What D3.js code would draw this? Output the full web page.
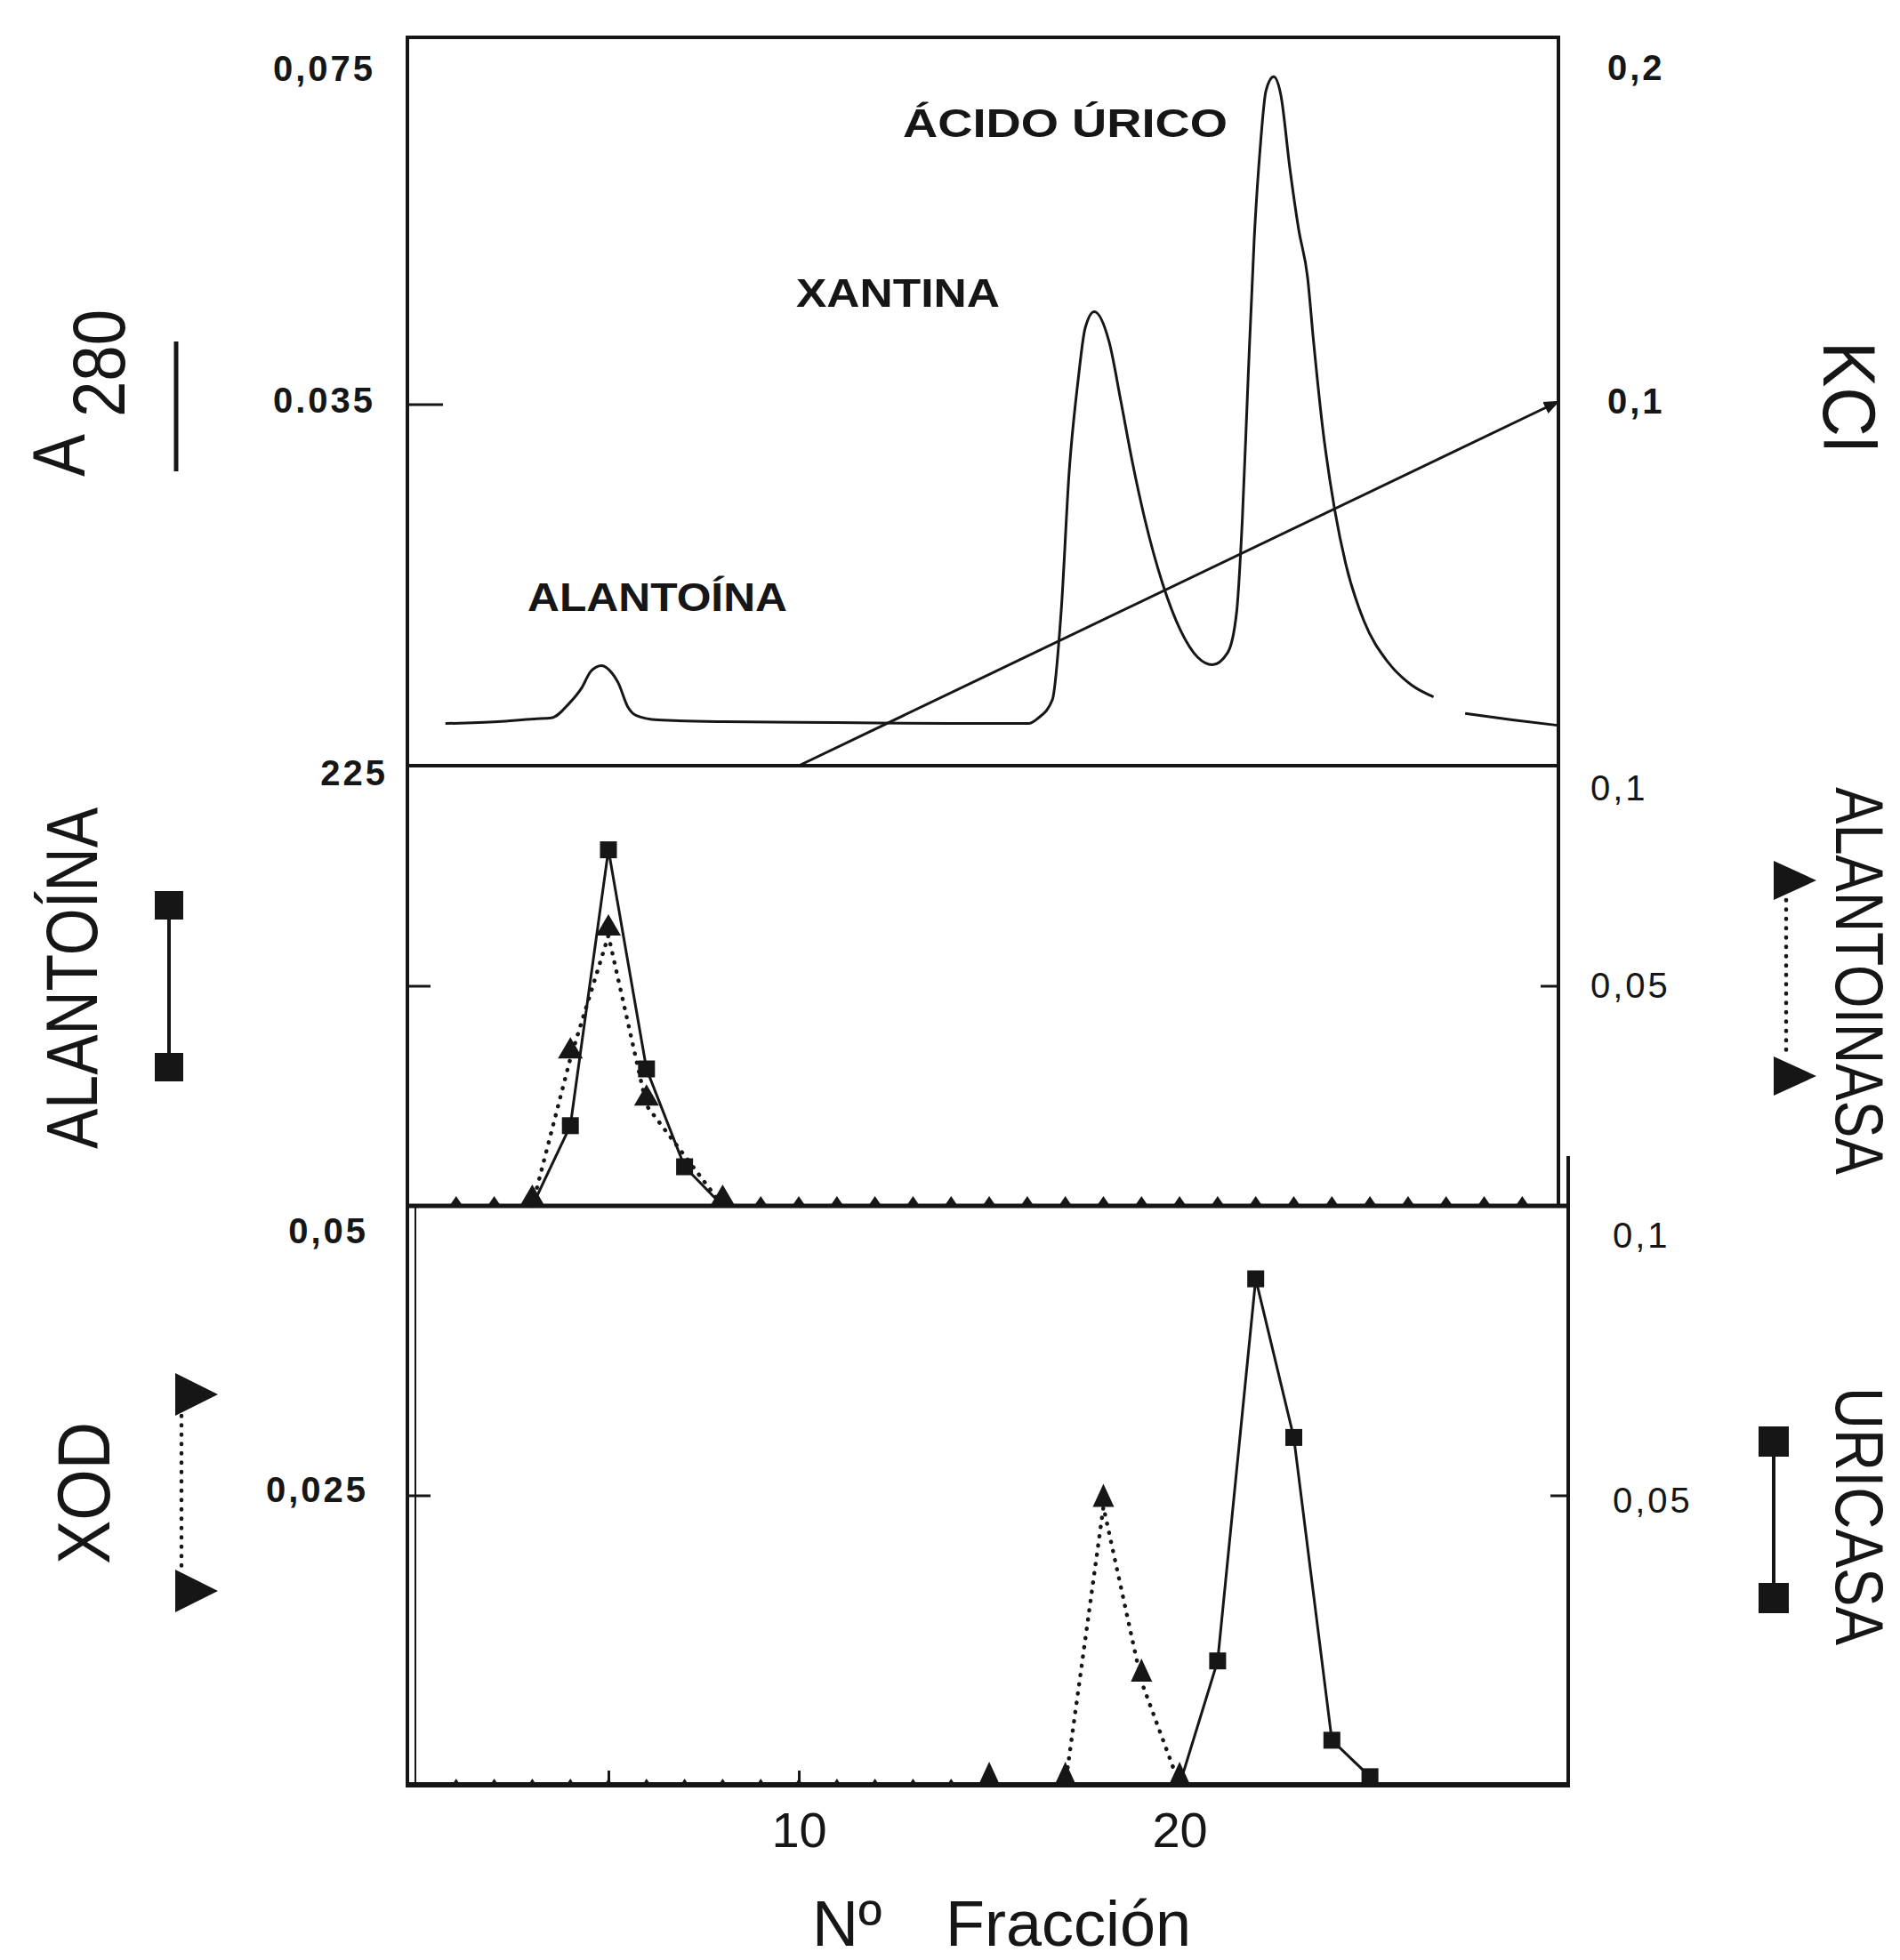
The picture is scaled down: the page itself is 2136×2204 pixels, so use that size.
<!DOCTYPE html>
<html>
<head>
<meta charset="utf-8">
<script src="https://cdn.jsdelivr.net/npm/d3@7/dist/d3.min.js"></script>
<style>
  body { margin: 0; background: #fff; }
  text { font-family: "Liberation Sans", Arial, sans-serif; fill: #161616; }
</style>
</head>
<body>
<script>
// ---- data ----
// A280 recorder trace (top panel): fraction number / absorbance; null = gap in the trace
var a280Frac = [0.72, 2.1, 3.04, 3.5, 3.97, 4.3, 4.54, 4.82, 5.09, 5.26, 5.51, 5.72, 6.3, 8, 11, 14, 16.03,
  16.29, 16.66, 16.89, 17.1, 17.34, 17.52, 17.76, 18.15, 18.46, 18.76, 19.08, 19.55, 20.02, 20.48, 20.86,
  21.26, 21.5, 21.65, 21.8, 21.96, 22.12, 22.27, 22.47, 22.66, 22.9, 23.13, 23.36, 23.52, 23.75, 24.07,
  24.37, 24.84, 25.47, 26.09, 26.67, 27.1, 27.5, 28.74, 29.93];
var a280Abs = [0.0002, 0.0004, 0.0007, 0.0008, 0.0024, 0.0041, 0.0059, 0.0065, 0.0057, 0.0046, 0.0020, 0.0011,
  0.0006, 0.0004, 0.0003, 0.0002, 0.0002, 0.0008, 0.0028, 0.0124, 0.0276, 0.0378, 0.0433, 0.0451, 0.0418,
  0.0353, 0.0287, 0.0226, 0.0155, 0.0104, 0.0074, 0.0066, 0.0079, 0.0124, 0.0226, 0.0378, 0.0530, 0.0631,
  0.0692, 0.0707, 0.0687, 0.0606, 0.0540, 0.0489, 0.0418, 0.0327, 0.0236, 0.0175, 0.0114, 0.0069, 0.0044,
  0.0031, null, 0.0013, 0.0006, 0.0000];
// KCl gradient (right scale, top panel)
var kclFrac = [10, 29.95];
var kclConc = [0, 0.1];

// middle panel: alantoína (squares, left scale) and alantoinasa (triangles, right scale)
var alantoinaFrac = [3, 4, 5, 6, 7, 8];
var alantoinaVal = [0, 41, 182, 70, 20, 0];
var alantoinasaFrac = [3, 4, 5, 6, 8];
var alantoinasaVal = [0, 0.0335, 0.0614, 0.0228, 0];
var alantoinasaZeroFrac = [1, 2, 9, 10, 11, 12, 13, 14, 15, 16, 17, 18, 19, 20, 21, 22, 23, 24, 25, 26, 27, 28, 29];

// bottom panel: XOD (triangles, left scale) and uricasa (squares, right scale)
var xodFrac = [15, 17, 18, 19, 20];
var xodVal = [0, 0, 0.024, 0.0089, 0];
var xodZeroFrac = [1, 2, 3, 4, 5, 6, 7, 8, 9, 10, 11, 12, 13, 14];
var uricasaFrac = [20, 21, 22, 23, 24, 25];
var uricasaVal = [0, 0.0214, 0.0874, 0.060, 0.0077, 0.0014];

// tick labels
var xTicks = [5, 10, 15, 20, 25];
var xTickLabels = ["", "10", "", "20", ""];
var topLeftTicks = [0.075, 0.035], topLeftLabels = ["0,075", "0.035"];
var topRightTicks = [0.2, 0.1], topRightLabels = ["0,2", "0,1"];
var midLeftTicks = [225, 112.5], midLeftLabels = ["225", ""];
var midRightTicks = [0.1, 0.05], midRightLabels = ["0,1", "0,05"];
var botLeftTicks = [0.05, 0.025], botLeftLabels = ["0,05", "0,025"];
var botRightTicks = [0.1, 0.05], botRightLabels = ["0,1", "0,05"];

// ---- layout ----
var W = 2136, H = 2204;
var ink = "#161616";
var fr = { left: 458, right: 1752, rightBot: 1763, top: 42, m1: 861, m2: 1356, bottom: 2007 };

var svg = d3.select("body").append("svg")
  .attr("width", W).attr("height", H)
  .style("background", "#fff");

var defs = svg.append("defs");
defs.append("marker")
  .attr("id", "arrow").attr("viewBox", "0 0 10 10")
  .attr("refX", 9).attr("refY", 5)
  .attr("markerWidth", 6).attr("markerHeight", 6)
  .attr("markerUnits", "strokeWidth")
  .attr("orient", "auto")
  .append("path").attr("d", "M0,1 L10,5 L0,9 Z").attr("fill", ink);

// scales
var x = d3.scaleLinear().domain([-0.28, 29.95]).range([fr.left, fr.right]);
var yTopL = d3.scaleLinear().domain([-0.0044, 0.075]).range([fr.m1, fr.top]);
var yTopR = d3.scaleLinear().domain([0, 0.2]).range([fr.m1, fr.top]);
var yMidL = d3.scaleLinear().domain([0, 225]).range([fr.m2, fr.m1]);
var yMidR = d3.scaleLinear().domain([0, 0.1]).range([fr.m2, fr.m1]);
var yBotL = d3.scaleLinear().domain([0, 0.05]).range([fr.bottom, fr.m2]);
var yBotR = d3.scaleLinear().domain([0, 0.1]).range([fr.bottom, fr.m2]);

// frame lines
function hline(y, x1, x2, w) {
  svg.append("line").attr("x1", x1).attr("x2", x2).attr("y1", y).attr("y2", y)
    .attr("stroke", ink).attr("stroke-width", w);
}
function vline(xx, y1, y2, w) {
  svg.append("line").attr("x1", xx).attr("x2", xx).attr("y1", y1).attr("y2", y2)
    .attr("stroke", ink).attr("stroke-width", w);
}
hline(fr.top, fr.left, fr.right, 4);
hline(fr.m1, fr.left, fr.right, 4);
hline(fr.m2, fr.left, fr.rightBot, 5);
hline(fr.bottom, fr.left, fr.rightBot, 6);
vline(fr.left, fr.top - 2, fr.bottom + 3, 4);
vline(fr.left + 9, fr.m2, fr.bottom, 2);
vline(fr.right, fr.top - 2, fr.m2, 4);
vline(fr.rightBot, 1300, fr.bottom + 3, 4);

// y axes
function sideAxis(scale, side, xpos, ticks, labels, opt) {
  var ax = (side === "left" ? d3.axisLeft(scale) : d3.axisRight(scale))
    .tickValues(ticks)
    .tickFormat(function(d, i) { return labels[i]; })
    .tickSize(0)
    .tickPadding(opt.pad);
  var g = svg.append("g").attr("transform", "translate(" + xpos + ",0)").call(ax);
  g.select(".domain").remove();
  var top = scale.domain()[1];
  g.selectAll(".tick line")
    .attr("stroke", ink).attr("stroke-width", 3)
    .attr("x2", function(d) {
      if (d === top) return 0;
      return side === "left" ? opt.len : -opt.len;
    });
  g.selectAll(".tick text")
    .attr("font-family", null).attr("font-size", null)
    .style("font-size", "40px")
    .style("font-weight", opt.bold ? "bold" : "normal")
    .style("letter-spacing", "3px")
    .attr("fill", ink)
    .attr("y", function(d) { return d === top ? opt.topShift : (opt.shift || 0); });
  return g;
}
sideAxis(yTopL, "left", fr.left, topLeftTicks, topLeftLabels, { pad: 36, len: 40, topShift: 36, bold: true, shift: -4 });
sideAxis(yTopR, "right", fr.right, topRightTicks, topRightLabels, { pad: 55, len: 0, topShift: 35, bold: true });
sideAxis(yMidL, "left", fr.left, midLeftTicks, midLeftLabels, { pad: 22, len: 26, topShift: 9, bold: true });
sideAxis(yMidR, "right", fr.right, midRightTicks, midRightLabels, { pad: 36, len: 20, topShift: 26, bold: false });
sideAxis(yBotL, "left", fr.left, botLeftTicks, botLeftLabels, { pad: 44, len: 26, topShift: 29, bold: true, shift: -6 });
sideAxis(yBotR, "right", fr.rightBot, botRightTicks, botRightLabels, { pad: 50, len: 20, topShift: 34, bold: false, shift: 6 });

// x axis
var xAxis = d3.axisBottom(x)
  .tickValues(xTicks)
  .tickFormat(function(d, i) { return xTickLabels[i]; })
  .tickSize(-16)
  .tickPadding(30);
var gx = svg.append("g").attr("transform", "translate(0," + fr.bottom + ")").call(xAxis);
gx.select(".domain").remove();
gx.selectAll(".tick line").attr("stroke", ink).attr("stroke-width", 3);
gx.selectAll(".tick text").attr("font-family", null).attr("font-size", null)
  .style("font-size", "56px").attr("fill", ink);

// ---- top panel ----
var a280 = d3.zip(a280Frac, a280Abs);
svg.append("path")
  .datum(a280)
  .attr("fill", "none").attr("stroke", ink).attr("stroke-width", 3)
  .attr("stroke-linejoin", "round")
  .attr("d", d3.line()
    .defined(function(d) { return d[1] !== null; })
    .x(function(d) { return x(d[0]); })
    .y(function(d) { return yTopL(d[1]); })
    .curve(d3.curveMonotoneX));

svg.append("path")
  .datum(d3.zip(kclFrac, kclConc))
  .attr("fill", "none").attr("stroke", ink).attr("stroke-width", 3)
  .attr("marker-end", "url(#arrow)")
  .attr("d", d3.line().x(function(d) { return x(d[0]); }).y(function(d) { return yTopR(d[1]); }));

function peakLabel(txt, x0, yb, len) {
  svg.append("text").attr("x", x0).attr("y", yb)
    .attr("textLength", len).attr("lengthAdjust", "spacingAndGlyphs")
    .style("font-size", "45px").style("font-weight", "bold")
    .text(txt);
}
peakLabel("ÁCIDO  ÚRICO", 1015, 154, 365);
peakLabel("XANTINA", 895, 345, 229);
peakLabel("ALANTOÍNA", 593, 687, 292);

// ---- marker helpers ----
function triPath(cx, by, w, h) {
  return "M" + (cx - w / 2) + "," + by + "L" + (cx + w / 2) + "," + by + "L" + cx + "," + (by - h) + "Z";
}
function rightTriPath(cx, cy, w, h) {
  return "M" + (cx - w / 2) + "," + (cy - h / 2) + "L" + (cx + w / 2) + "," + cy + "L" + (cx - w / 2) + "," + (cy + h / 2) + "Z";
}
function drawLine(frac, val, ys, dotted) {
  var p = svg.append("path")
    .datum(d3.zip(frac, val))
    .attr("fill", "none").attr("stroke", ink)
    .attr("d", d3.line().x(function(d) { return x(d[0]); }).y(function(d) { return ys(d[1]); }));
  if (dotted) {
    p.attr("stroke-width", 4.5).attr("stroke-dasharray", "0.5,10").attr("stroke-linecap", "round");
  } else {
    p.attr("stroke-width", 3);
  }
}
function drawTriangles(frac, val, ys, w, h) {
  svg.append("g").selectAll("path")
    .data(d3.zip(frac, val))
    .join("path")
    .attr("fill", ink)
    .attr("d", function(d) { return triPath(x(d[0]), ys(d[1]), w, h); });
}
function drawSquares(frac, val, ys, s) {
  svg.append("g").selectAll("rect")
    .data(d3.zip(frac, val).filter(function(d) { return d[1] > 0; }))
    .join("rect")
    .attr("fill", ink)
    .attr("x", function(d) { return x(d[0]) - s / 2; })
    .attr("y", function(d) { return ys(d[1]) - s / 2; })
    .attr("width", s).attr("height", s);
}

// ---- middle panel ----
drawLine(alantoinasaFrac, alantoinasaVal, yMidR, true);
drawLine(alantoinaFrac, alantoinaVal, yMidL, false);
drawSquares(alantoinaFrac, alantoinaVal, yMidL, 19);
drawTriangles(alantoinasaFrac, alantoinasaVal, yMidR, 28, 24);
drawTriangles(alantoinasaZeroFrac, alantoinasaZeroFrac.map(function() { return 0; }), yMidR, 15, 11);

// ---- bottom panel ----
drawLine(xodFrac, xodVal, yBotL, true);
drawLine(uricasaFrac, uricasaVal, yBotR, false);
drawTriangles(xodZeroFrac, xodZeroFrac.map(function() { return 0; }), yBotL, 9, 7);
drawTriangles(xodFrac, xodVal, yBotL, 24, 26);
drawSquares(uricasaFrac, uricasaVal, yBotR, 19);

// ---- axis titles ----
function rotText(txt, tx, ty, angle, anchor, size, len) {
  var t = svg.append("text")
    .attr("transform", "translate(" + tx + "," + ty + ") rotate(" + angle + ")")
    .attr("text-anchor", anchor)
    .style("font-size", size + "px")
    .text(txt);
  if (len) t.attr("textLength", len).attr("lengthAdjust", "spacingAndGlyphs");
  return t;
}
rotText("A", 95, 536, -90, "start", 84, 48);
rotText("280", 140, 469, -90, "start", 84, 121);
rotText("ALANTOÍNA", 109, 1100, -90, "middle", 81, 384);
rotText("XOD", 123, 1679, -90, "middle", 84, 160);
rotText("KCl", 2050, 446, 90, "middle", 84, 124);
rotText("ALANTOINASA", 2064, 1103, 90, "middle", 76, 436);
rotText("URICASA", 2064, 1705, 90, "middle", 76, 290);

svg.append("text").attr("x", 913).attr("y", 2188).style("font-size", "72px").text("Nº");
svg.append("text").attr("x", 1063).attr("y", 2188).style("font-size", "72px").text("Fracción");

// ---- legend keys ----
vline(198, 384, 530, 5);

vline(190, 1018, 1200, 4);
svg.append("rect").attr("x", 174).attr("y", 1002).attr("width", 32).attr("height", 32).attr("fill", ink);
svg.append("rect").attr("x", 174).attr("y", 1184).attr("width", 32).attr("height", 32).attr("fill", ink);

svg.append("line").attr("x1", 204).attr("x2", 204).attr("y1", 1592).attr("y2", 1768)
  .attr("stroke", ink).attr("stroke-width", 4.5).attr("stroke-dasharray", "0.5,10").attr("stroke-linecap", "round");
svg.append("path").attr("d", rightTriPath(221, 1568, 48, 48)).attr("fill", ink);
svg.append("path").attr("d", rightTriPath(221, 1789, 48, 48)).attr("fill", ink);

svg.append("line").attr("x1", 2008).attr("x2", 2008).attr("y1", 1012).attr("y2", 1188)
  .attr("stroke", ink).attr("stroke-width", 4.5).attr("stroke-dasharray", "0.5,10").attr("stroke-linecap", "round");
svg.append("path").attr("d", rightTriPath(2018, 990, 48, 44)).attr("fill", ink);
svg.append("path").attr("d", rightTriPath(2018, 1210, 48, 44)).attr("fill", ink);

vline(1994, 1621, 1797, 4);
svg.append("rect").attr("x", 1977).attr("y", 1604).attr("width", 34).attr("height", 34).attr("fill", ink);
svg.append("rect").attr("x", 1977).attr("y", 1780).attr("width", 34).attr("height", 34).attr("fill", ink);
</script>
</body>
</html>
